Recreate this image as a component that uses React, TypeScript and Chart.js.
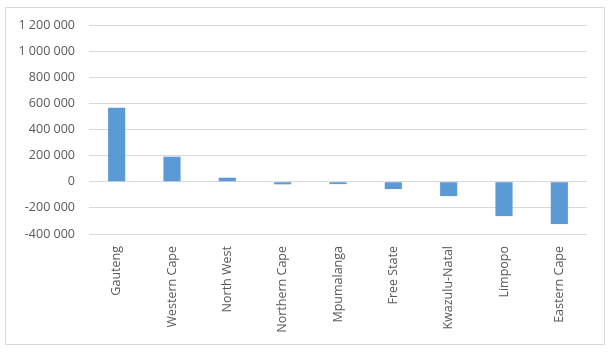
import React, { useEffect, useRef } from "react";
import { Chart, registerables } from "chart.js";

Chart.register(...registerables);

const categories = [
  "Gauteng",
  "Western Cape",
  "North West",
  "Northern Cape",
  "Mpumalanga",
  "Free State",
  "Kwazulu-Natal",
  "Limpopo",
  "Eastern Cape",
];
const values = [567000, 192000, 31000, -20000, -18000, -56000, -110000, -263000, -324000];
const yMin = -400000;
const yMax = 1200000;
const yStep = 200000;

const fmt = (v: number) => {
  const s = Math.abs(v).toString().replace(/\B(?=(\d{3})+(?!\d))/g, " ");
  return (v < 0 ? "-" : "") + s;
};

export default function App() {
  const ref = useRef<HTMLCanvasElement>(null);
  useEffect(() => {
    if (!ref.current) return;
    const chart = new Chart(ref.current, {
      type: "bar",
      data: {
        labels: categories,
        datasets: [
          {
            data: values,
            backgroundColor: "#5b9bd5",
            barPercentage: 0.62,
            categoryPercentage: 0.5,
          },
        ],
      },
      options: {
        animation: false,
        responsive: false,
        maintainAspectRatio: false,
        layout: { padding: { top: 17, right: 17, left: 0, bottom: 0 } },
        plugins: { legend: { display: false }, tooltip: { enabled: false } },
        scales: {
          x: {
            grid: { display: false },
            border: { display: false },
            ticks: {
              minRotation: 90,
              maxRotation: 90,
              color: "#595959",
              font: { family: "'Open Sans'", size: 12.5 },
              padding: 4,
            },
            afterFit: (s: any) => {
              s.height = 110;
            },
          },
          y: {
            min: yMin,
            max: yMax,
            grid: { color: "#d9d9d9", drawTicks: false },
            border: { display: false },
            ticks: {
              stepSize: yStep,
              color: "#595959",
              font: { family: "'Open Sans'", size: 12.5 },
              padding: 14,
              callback: (v: any) => fmt(Number(v)),
            },
            afterFit: (s: any) => {
              s.width = 83;
              s.paddingTop = 8;
              s.paddingBottom = 8;
            },
          },
        },
      },
    });
    return () => chart.destroy();
  }, []);
  return (
    <div
      style={{
        position: "fixed",
        left: 5,
        top: 7,
        width: 598,
        height: 336,
        border: "1px solid #d9d9d9",
        background: "#fff",
      }}
    >
      <canvas ref={ref} width={598} height={336} style={{ display: "block" }} />
    </div>
  );
}
